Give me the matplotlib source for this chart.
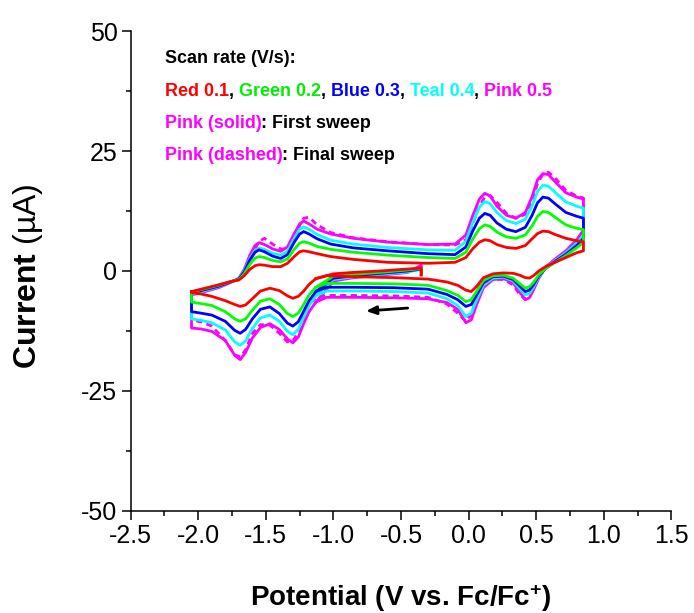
import matplotlib
matplotlib.use('Agg')
import matplotlib.pyplot as plt
from matplotlib.ticker import MultipleLocator
from matplotlib.offsetbox import TextArea, HPacker, VPacker, AnchoredOffsetbox

plt.rcParams['font.family'] = ['Liberation Sans', 'DejaVu Sans']
plt.rcParams['mathtext.fontset'] = 'custom'
plt.rcParams['mathtext.rm'] = 'Liberation Sans'
plt.rcParams['mathtext.bf'] = 'Liberation Sans:bold'
plt.rcParams['mathtext.it'] = 'Liberation Sans:italic'

# anodic (upper) branch, -2.05 V -> 0.85 V
E_ox = [-2.05, -1.95, -1.85, -1.76, -1.70, -1.66, -1.62, -1.58, -1.55, -1.51,
        -1.45, -1.39, -1.34, -1.29, -1.25, -1.22, -1.18, -1.12, -1.02, -0.85,
        -0.60, -0.30, -0.10, -0.02, 0.03, 0.08, 0.12, 0.16, 0.21, 0.28,
        0.35, 0.42, 0.47, 0.51, 0.55, 0.59, 0.64, 0.72, 0.80, 0.85]

ox_red = [-4.3, -3.6, -2.9, -2.2, -1.9, -1.0, 0.3, 1.1, 1.3, 1.2,
          0.9, 0.9, 1.6, 3.0, 4.0, 4.2, 4.0, 3.6, 3.0, 2.4,
          1.8, 1.6, 1.8, 2.8, 4.6, 6.0, 6.5, 6.3, 5.5, 4.9,
          4.7, 5.3, 6.7, 7.8, 8.3, 8.2, 7.6, 6.8, 6.3, 6.1]
ox_green = [-4.4, -3.7, -3.0, -2.2, -1.8, -0.6, 1.3, 2.7, 3.0, 2.8,
            2.2, 1.9, 2.5, 4.5, 5.8, 6.1, 5.8, 5.1, 4.5, 3.9,
            3.3, 2.8, 2.6, 3.9, 6.6, 8.8, 9.6, 9.3, 8.1, 7.1,
            6.8, 7.5, 9.4, 11.4, 12.4, 12.2, 11.2, 9.6, 8.9, 8.6]
ox_blue = [-4.6, -3.9, -3.2, -2.3, -1.7, -0.2, 2.2, 3.9, 4.4, 4.0,
           3.1, 2.6, 3.4, 6.0, 7.7, 8.2, 7.7, 6.7, 5.6, 4.8,
           4.2, 3.6, 3.4, 5.0, 8.3, 11.0, 12.0, 11.6, 10.0, 8.7,
           8.2, 9.1, 11.6, 14.2, 15.4, 15.2, 14.0, 12.2, 11.4, 11.0]
ox_teal = [-4.8, -4.1, -3.3, -2.3, -1.6, 0.0, 2.5, 4.3, 4.8, 4.5,
           3.7, 3.3, 4.1, 6.8, 8.7, 9.2, 8.7, 7.6, 6.4, 5.6,
           4.9, 4.4, 4.3, 6.2, 10.0, 13.3, 14.5, 14.0, 12.2, 10.5,
           9.9, 10.8, 13.6, 16.6, 17.9, 17.7, 16.4, 14.4, 13.5, 13.1]
ox_pink = [-5.0, -4.3, -3.5, -2.4, -1.5, 0.3, 3.2, 5.3, 5.9, 5.5,
           4.6, 4.1, 5.0, 7.8, 9.8, 10.4, 9.8, 8.7, 7.7, 6.8,
           6.0, 5.5, 5.6, 7.5, 11.5, 15.0, 16.2, 15.6, 13.5, 11.6,
           11.0, 12.2, 15.5, 19.0, 20.3, 20.1, 18.6, 16.3, 15.4, 15.0]
ox_pink_final = [-4.6, -4.0, -3.3, -2.3, -1.7, -0.5, 1.8, 4.5, 6.2, 6.8,
                 5.6, 4.6, 4.6, 6.5, 9.5, 11.0, 11.2, 9.6, 8.0, 6.9,
                 6.1, 5.5, 5.4, 6.5, 9.8, 13.5, 15.4, 15.7, 14.3, 12.0,
                 11.0, 11.8, 14.6, 18.2, 20.2, 20.6, 19.4, 16.8, 15.6, 15.2]

# cathodic (lower) branch, 0.85 V -> -2.05 V
E_red = [0.85, 0.80, 0.72, 0.64, 0.57, 0.52, 0.48, 0.45, 0.42, 0.38,
         0.33, 0.26, 0.18, 0.11, 0.06, 0.02, -0.02, -0.08, -0.16, -0.30,
         -0.55, -0.85, -1.05, -1.13, -1.18, -1.22, -1.26, -1.30, -1.34, -1.40,
         -1.47, -1.54, -1.60, -1.65, -1.69, -1.73, -1.80, -1.90, -1.98, -2.05]

rd_red = [4.2, 3.8, 2.8, 1.8, 0.9, 0.0, -1.0, -1.5, -1.4, -0.9,
          -0.5, -0.4, -0.6, -1.4, -3.2, -4.3, -4.0, -3.0, -2.3, -1.7,
          -1.4, -1.2, -1.0, -1.6, -2.8, -4.2, -5.3, -5.7, -5.2, -4.1,
          -3.6, -4.2, -5.8, -7.1, -7.4, -7.0, -6.2, -5.3, -4.8, -4.5]
rd_green = [6.0, 4.8, 3.2, 1.8, 0.5, -0.8, -2.4, -3.3, -3.6, -2.7,
            -1.5, -0.9, -1.0, -2.0, -4.2, -6.0, -6.4, -5.1, -4.1, -3.0,
            -2.7, -2.6, -2.6, -3.4, -5.0, -7.0, -8.8, -9.5, -8.9, -7.0,
            -5.8, -6.3, -8.2, -10.0, -10.5, -10.0, -8.5, -7.2, -6.8, -6.5]
rd_blue = [6.8, 5.3, 3.5, 2.0, 0.5, -1.0, -2.9, -4.0, -4.3, -3.2,
           -1.8, -1.1, -1.2, -2.5, -5.0, -7.0, -7.4, -6.0, -4.9, -3.8,
           -3.5, -3.4, -3.4, -4.3, -6.2, -8.4, -10.6, -11.5, -10.9, -8.9,
           -7.5, -8.0, -10.0, -12.2, -13.0, -12.4, -10.5, -9.2, -8.8, -8.5]
rd_teal = [7.5, 5.8, 3.8, 2.2, 0.6, -1.2, -3.4, -4.7, -5.0, -3.8,
           -2.1, -1.3, -1.5, -3.0, -6.0, -8.8, -9.5, -7.2, -5.8, -4.6,
           -4.3, -4.2, -4.2, -5.2, -7.2, -9.6, -12.2, -13.3, -12.6, -10.5,
           -9.2, -9.8, -12.0, -14.6, -15.5, -14.8, -12.3, -10.8, -10.3, -10.0]
rd_pink = [8.5, 6.5, 4.2, 2.5, 0.8, -1.5, -4.0, -5.6, -6.0, -4.5,
           -2.5, -1.6, -1.8, -3.5, -7.0, -10.2, -10.8, -8.0, -6.6, -5.8,
           -5.6, -5.5, -5.5, -6.5, -8.5, -11.0, -13.8, -15.0, -14.2, -12.2,
           -11.0, -11.8, -14.0, -17.0, -18.5, -17.6, -14.5, -12.6, -12.1, -11.9]
rd_pink_final = [8.0, 6.2, 4.0, 2.3, 0.6, -1.4, -3.6, -5.2, -5.9, -5.0,
                 -2.9, -1.8, -1.7, -2.8, -5.5, -9.0, -10.5, -8.8, -6.9, -5.5,
                 -5.2, -5.1, -5.1, -5.6, -7.0, -9.6, -12.8, -14.6, -14.8, -13.0,
                 -11.3, -11.2, -13.0, -16.5, -17.9, -17.5, -14.5, -11.5, -10.6, -10.3]

# start of the first sweep (rest potential, scanning negative)
E_start = [-0.35, -0.35, -0.45, -0.65, -0.85, -1.00, -1.13]
st_red = [-0.8, 0.6, 0.4, 0.0, -0.3, -0.6, -1.6]
st_green = [-0.8, 0.5, 0.2, -0.3, -0.7, -1.1, -3.4]
st_blue = [-0.8, 0.4, 0.0, -0.5, -1.0, -1.5, -4.3]
st_teal = [-0.8, 0.3, -0.2, -0.7, -1.2, -1.8, -5.2]
st_pink = [-0.8, 1.2, -0.3, -0.9, -1.4, -2.1, -6.5]

fig = plt.figure(figsize=(6.94, 6.13), dpi=100)
ax = fig.add_axes([0.1883, 0.1669, 0.779, 0.7822])

lw = 2.0
# pink: first sweep solid, final sweep dashed
ax.plot(E_ox + E_red, ox_pink_final + rd_pink_final, color='#FF00FF', lw=lw,
        ls=(0, (2.2, 1.6)))
series = [
    ('#FF00FF', ox_pink, rd_pink, st_pink),
    ('#00FFFF', ox_teal, rd_teal, st_teal),
    ('#0000FF', ox_blue, rd_blue, st_blue),
    ('#00FF00', ox_green, rd_green, st_green),
    ('#FF0000', ox_red, rd_red, st_red),
]
for col, up, dn, st in series:
    ax.plot(E_ox + E_red + E_ox[:1], up + dn + up[:1], color=col, lw=lw)
    ax.plot(E_start, st, color=col, lw=lw)

# scan direction arrow
ax.annotate('', xy=(-0.78, -8.4), xytext=(-0.43, -7.7),
            arrowprops=dict(arrowstyle='-|>,head_length=0.6,head_width=0.25',
                            color='black', lw=2.0))

ax.set_xlim(-2.5, 1.5)
ax.set_ylim(-50, 50)
ax.xaxis.set_minor_locator(MultipleLocator(0.25))
ax.yaxis.set_minor_locator(MultipleLocator(12.5))
ax.set_xticks([-2.5, -2.0, -1.5, -1.0, -0.5, 0.0, 0.5, 1.0, 1.5])
ax.set_xticklabels(['-2.5', '-2.0', '-1.5', '-1.0', '-0.5', '0.0', '0.5', '1.0', '1.5'])
ax.set_yticks([-50, -25, 0, 25, 50])
ax.set_yticklabels(['-50', '-25', '0', '25', '50'])
ax.spines['top'].set_visible(False)
ax.spines['right'].set_visible(False)
for s in ('left', 'bottom'):
    ax.spines[s].set_linewidth(1.1)
ax.tick_params(which='major', direction='out', length=6.5, width=1.1,
               labelsize=18, pad=3)
ax.tick_params(which='minor', direction='out', length=3.3, width=1.1)

ax.set_xlabel(r'Potential (V vs. Fc/Fc$^{\mathbf{+}}$)', fontsize=20,
              fontweight='bold', va='top')
ax.xaxis.set_label_coords(0.5, -0.15)
ax.set_ylabel(r'$\mathbf{Current}$ (µA)', fontsize=23)
ax.yaxis.set_label_coords(-0.158, 0.49)

# colour-coded note in the upper left
fs = 12.9
def piece(txt, col):
    return TextArea(txt, textprops=dict(color=col, fontsize=fs, fontweight='bold'))

rows = [
    [piece('Scan rate (V/s):', 'black')],
    [piece('Red 0.1', '#FF0000'), piece(', ', 'black'),
     piece('Green 0.2', '#00EE00'), piece(', ', 'black'),
     piece('Blue 0.3', '#0000FF'), piece(', ', 'black'),
     piece('Teal 0.4', '#00FFFF'), piece(', ', 'black'),
     piece('Pink 0.5', '#FF00FF')],
    [piece('Pink (solid)', '#FF00FF'), piece(': First sweep', 'black')],
    [piece('Pink (dashed)', '#FF00FF'), piece(': Final sweep', 'black')],
]
box = VPacker(children=[HPacker(children=r, sep=0, pad=0) for r in rows],
              sep=11, pad=0, align='left')
anch = AnchoredOffsetbox(loc='upper left', child=box, pad=0, frameon=False,
                         bbox_to_anchor=(0.063, 0.96),
                         bbox_transform=ax.transAxes, borderpad=0)
ax.add_artist(anch)

fig.savefig('out.png', dpi=100)
